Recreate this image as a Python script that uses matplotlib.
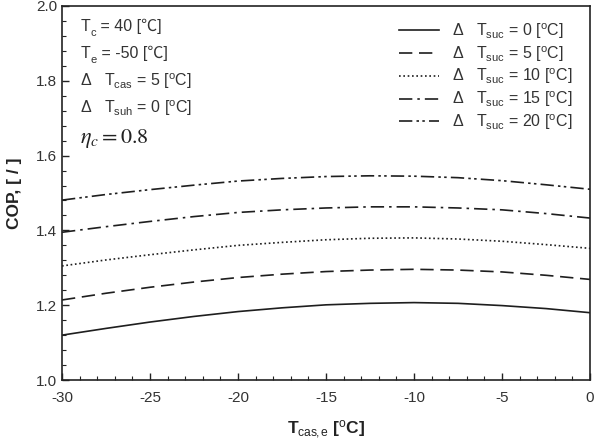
import matplotlib
matplotlib.use('Agg')
import matplotlib.pyplot as plt
from matplotlib.ticker import MultipleLocator, FormatStrFormatter

plt.rcParams['font.family'] = ['Liberation Sans', 'DejaVu Sans']
plt.rcParams['mathtext.fontset'] = 'custom'
plt.rcParams['mathtext.rm'] = 'Liberation Sans'
plt.rcParams['mathtext.it'] = 'Liberation Sans:italic'
plt.rcParams['mathtext.bf'] = 'Liberation Sans:bold'
plt.rcParams['axes.unicode_minus'] = False

# evaporator temperature of the cascade [C]
t_cas_e = [-30, -27.5, -25, -22.5, -20, -17.5, -15, -12.5, -10, -7.5, -5, -2.5, 0]

# COP, one list per suction superheat
cop_suc0 = [1.120, 1.138, 1.155, 1.170, 1.183, 1.193, 1.201, 1.205, 1.207, 1.205, 1.199, 1.191, 1.180]
cop_suc5 = [1.214, 1.232, 1.248, 1.262, 1.274, 1.283, 1.290, 1.294, 1.296, 1.294, 1.289, 1.280, 1.269]
cop_suc10 = [1.305, 1.321, 1.335, 1.348, 1.360, 1.368, 1.375, 1.379, 1.380, 1.377, 1.371, 1.362, 1.352]
cop_suc15 = [1.395, 1.410, 1.424, 1.437, 1.448, 1.455, 1.460, 1.463, 1.463, 1.460, 1.455, 1.445, 1.433]
cop_suc20 = [1.481, 1.496, 1.509, 1.521, 1.532, 1.539, 1.544, 1.546, 1.545, 1.541, 1.533, 1.522, 1.510]

suc_values = [0, 5, 10, 15, 20]
series = [cop_suc0, cop_suc5, cop_suc10, cop_suc15, cop_suc20]
styles = ['-', (0, (8, 4)), (0, (1, 1.6)), (0, (8, 3, 1.5, 3)), (0, (8, 2.5, 1.5, 2, 1.5, 2.5))]

fig = plt.figure(figsize=(5.94, 4.44), dpi=100)
ax = fig.add_axes([0.1044, 0.1441, 0.8889, 0.8424])

line_col = '#1e1e1e'
txt_col = '#333333'
for cop, suc, ls in zip(series, suc_values, styles):
    ax.plot(t_cas_e, cop, color=line_col, linestyle=ls, linewidth=1.2,
            label=r'$\Delta$   T$_{\rm suc}$ = %d [$^{\rm o}$C]' % suc)

ax.set_xlim(-30, 0)
ax.set_ylim(1.0, 2.0)
ax.xaxis.set_major_locator(MultipleLocator(5))
ax.xaxis.set_minor_locator(MultipleLocator(1))
ax.yaxis.set_major_locator(MultipleLocator(0.2))
ax.yaxis.set_minor_locator(MultipleLocator(0.04))
ax.yaxis.set_major_formatter(FormatStrFormatter('%.1f'))
ax.tick_params(which='both', direction='in', top=False, right=False,
               labelsize=11, labelcolor=txt_col, color='#222222')
ax.tick_params(which='major', length=5, width=1)
ax.tick_params(which='minor', length=3, width=0.8)
ax.tick_params(axis='x', pad=8)
for sp in ax.spines.values():
    sp.set_linewidth(1.2)
    sp.set_color('#222222')

ax.set_xlabel(r'T$_{\rm cas\!,e}$ [$^{\rm o}$C]', fontsize=12.5, fontweight='bold',
              color='#222222', labelpad=10)
ax.set_ylabel('COP, [ / ]', fontsize=12.5, fontweight='bold', color='#222222', labelpad=10)

leg = ax.legend(loc='upper right', bbox_to_anchor=(0.985, 0.985), frameon=False,
                fontsize=11.5, handlelength=2.5, handletextpad=0.8, labelspacing=0.2,
                borderaxespad=0.2)
for t in leg.get_texts():
    t.set_color(txt_col)

x0 = 0.035
y0 = 0.945
dy = 0.073
fs = 11.5


def celsius_line(y, sub, rest):
    # "T" + subscript + rest; rest is plain text so the degree sign can fall back to a CJK font
    t = ax.text(x0, y, 'T', transform=ax.transAxes, fontsize=fs, color=txt_col,
                va='center', ha='left')
    s = ax.annotate(sub, xy=(1, 0), xycoords=t, xytext=(0.3, -2.5), textcoords='offset points',
                    fontsize=fs * 0.7, color=txt_col, va='bottom', ha='left')
    ax.annotate(rest, xy=(1, 0), xycoords=(s, t), xytext=(0, 0), textcoords='offset points',
                fontsize=fs, color=txt_col, va='bottom', ha='left',
                family=['Liberation Sans', 'Noto Sans CJK SC'])


celsius_line(y0, 'c', ' = 40 [℃]')
celsius_line(y0 - dy, 'e', ' = -50 [℃]')
ax.text(x0, y0 - 2 * dy, r'$\Delta$   T$_{\rm cas}$ = 5 [$^{\rm o}$C]', transform=ax.transAxes,
        fontsize=fs, color=txt_col, va='center', ha='left')
ax.text(x0, y0 - 3 * dy, r'$\Delta$   T$_{\rm suh}$ = 0 [$^{\rm o}$C]', transform=ax.transAxes,
        fontsize=fs, color=txt_col, va='center', ha='left')
ax.text(x0, y0 - 4 * dy - 0.008, r'$\eta_c = 0.8$', transform=ax.transAxes,
        fontsize=16, color='#222222', va='center', ha='left', math_fontfamily='stix')

fig.savefig('out.png', dpi=100)
